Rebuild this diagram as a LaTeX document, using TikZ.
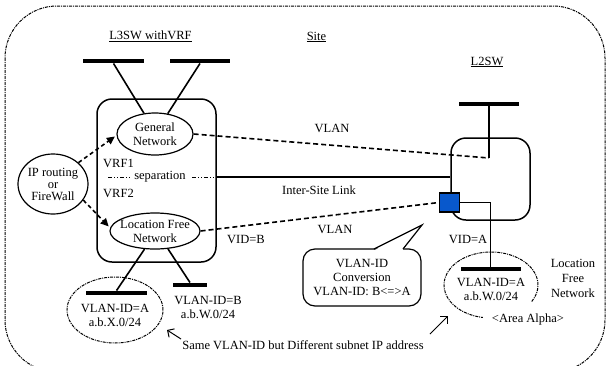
\documentclass[tikz,border=0pt]{standalone}
\usepackage{fontspec}
\setmainfont{Liberation Serif}
\usetikzlibrary{shapes.geometric,arrows.meta}
\definecolor{portblue}{RGB}{8,88,204}
\begin{document}
\begin{tikzpicture}[x=1pt,y=-1pt,
  every node/.style={font=\fontsize{12.5}{14}\selectfont, inner sep=0pt, align=center},
  ell/.style={draw, ellipse, line width=1.2pt},
  zoneline/.style={line width=1pt, dash pattern=on 3pt off 1pt on 1pt off 1pt},
  zone/.style={draw, ellipse, zoneline},
  barnode/.style={fill, inner sep=0pt, minimum height=4.5pt},
  link/.style={line width=1.6pt},
  trunk/.style={line width=2.2pt},
  vlan/.style={line width=1.6pt, dash pattern=on 5pt off 3pt},
  ctrl/.style={line width=1.6pt, dash pattern=on 4pt off 3pt, shorten >=2pt, -{Triangle[length=8pt,width=7.5pt]}},
  box/.style={draw, line width=1.5pt, rounded corners=15pt},
  note/.style={line width=1pt, -{Straight Barb[length=5pt,width=10pt]}},
]
\useasboundingbox (0,0) rectangle (606,365);

% site boundary
\begin{scope}
  \clip (0,0) rectangle (606,365);
  \draw[zoneline, rounded corners=52pt] (5,6) rectangle (605,372);
\end{scope}

% headings
\node (t3) at (150.5,36) {\underline{L3SW withVRF}};
\node (tsite) at (316.5,37) {\underline{Site}};
\node (t2) at (487,62) {\underline{L2SW}};

% L3 switch
\node[box, minimum width=119pt, minimum height=163pt] (l3) at (156.5,180.5) {};
\node[ell, minimum width=76pt, minimum height=42pt] (gen) at (155,134) {};
\node at (gen) {General\\Network};
\node[ell, minimum width=90pt, minimum height=36pt] (lfn) at (155,231) {};
\node at (lfn) {Location Free\\Network};
\node[ell, minimum width=70pt, minimum height=60pt] (ip) at (53,184) {};
\node[font=\fontsize{12.5}{12}\selectfont] at (ip) {IP routing\\or\\FireWall};

\node[anchor=west] (vrf1) at (103,163) {VRF1};
\node[anchor=west] (vrf2) at (103,193) {VRF2};
\coordinate (sepl) at (108,177);
\coordinate (sepr) at (l3.east |- sepl);
\draw[line width=1pt, dash pattern=on 4pt off 2pt on 1pt off 2pt on 1pt off 2pt] (sepl) -- (sepr);
\node[fill=white, inner xsep=4pt, inner ysep=1pt] (sep) at (160,177) {separation};

\draw[ctrl] (ip.40) -- (gen.182);
\draw[ctrl] (ip.-28) -- (lfn.176);

% top bars of the L3 switch
\node[barnode, minimum width=61pt] (b1) at (113.5,61) {};
\node[barnode, minimum width=60pt] (b2) at (200,61) {};
\draw[link] (b1.south) -- (gen.118);
\draw[link] (b2.south) -- (gen.58);

% lower bars of the L3 switch
\node[zone, minimum width=96pt, minimum height=66pt] (zx) at (115,310) {};
\node[barnode, minimum width=61pt] (b5) at (116.5,293) {};
\node[barnode, minimum width=34pt] (b6) at (190,285) {};
\draw[link] (b5.north) -- (lfn.-120);
\draw[link] (b6.north) -- (lfn.-54);
\node (zxt) at (115,315) {VLAN-ID=A\\a.b.X.0/24};
\node (b6t) at (208,307) {VLAN-ID=B\\a.b.W.0/24};

% L2 switch
\node[box, minimum width=79pt, minimum height=82pt] (l2) at (490.5,179) {};
\node[barnode, minimum width=60pt] (b3) at (489,104) {};
\coordinate (l2in) at (489,158);
\draw[link] (b3.south) -- (l2in);
\node[draw, fill=portblue, line width=1.2pt, minimum width=20pt, minimum height=19pt] (sq) at (449.5,202.5) {};
\node[barnode, minimum width=60pt] (b4) at (490.5,269) {};
\draw[link] (sq.east) -| (b4.north);

% links between the switches
\draw[trunk] (l3.east |- sepl) -- (l2.west |- sepl);
\draw[vlan] (gen.east) -- (l2in);
\draw[vlan] (lfn.east) -- (sq.west);
\node (vlan1) at (332,128) {VLAN};
\node (isl) at (319,190) {Inter-Site Link};
\node (vlan2) at (335,229) {VLAN};
\node (vidb) at (246,239) {VID=B};
\node (vida) at (468,239) {VID=A};

% conversion callout
\node[draw, line width=1.2pt, rounded corners=12pt, minimum width=118pt, minimum height=57pt] (conv) at (362,277.5) {};
\fill[white] (374.5,250.2) -- (422,225) -- (402.5,250.2) -- cycle;
\draw[line width=1.2pt, line join=miter] (374,249) -- (422,225) -- (403,249);
\node at (conv) {VLAN-ID\\Conversion\\VLAN-ID: B<=>A};

% area alpha
\draw[zoneline] (531.7,301.5) arc[start angle=30, end angle=-260, x radius=47, y radius=33];
\node (zat) at (491,289) {VLAN-ID=A\\a.b.W.0/24};
\node (alpha) at (528,319) {<Area Alpha>};
\node[font=\fontsize{12.5}{15}\selectfont] (lfnr) at (573,278) {Location\\Free\\Network};

% remark at the bottom
\node (rem) at (303,345) {Same VLAN-ID but Different subnet IP address};
\coordinate (alt) at (181,339);
\coordinate (al) at (167,330);
\coordinate (art) at (430,334);
\coordinate (ar) at (448,316);
\draw[note] (alt) -- (al);
\draw[note] (art) -- (ar);
\end{tikzpicture}
\end{document}
